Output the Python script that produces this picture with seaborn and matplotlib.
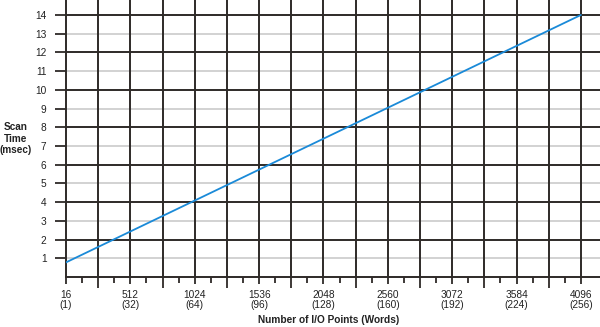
import matplotlib
matplotlib.use("Agg")
import matplotlib.pyplot as plt
import seaborn as sns
import pandas as pd

# Data (x in words from axis origin, y in msec)
io_words = [0, 256]
scan_ms = [0.78, 14.0]

# Tick labels
x_label_pos = [0, 32, 64, 96, 128, 160, 192, 224, 256]
x_label_text = ["16\n(1)", "512\n(32)", "1024\n(64)", "1536\n(96)", "2048\n(128)",
                "2560\n(160)", "3072\n(192)", "3584\n(224)", "4096\n(256)"]
x_grid_pos = [16, 48, 80, 112, 144, 176, 208, 240]
x_minor_pos = [8, 24, 40, 56, 72, 88, 104, 120, 136, 152, 168, 184, 200, 216, 232, 248]
y_ticks = list(range(1, 15))

sns.set_theme(style="white")
plt.rcParams["font.family"] = ["Liberation Sans", "DejaVu Sans"]

fig = plt.figure(figsize=(6.0, 3.27), dpi=100)
ax = fig.add_axes([66 / 600, 50 / 327, 1 - 66 / 600, 1 - 50 / 327])

dark = "#2e2a28"
light = "#d2d2d2"

# grid lines
for y in y_ticks:
    ax.axhline(y, color=dark if y % 2 == 0 else light, lw=1.4, zorder=1)
for x in x_label_pos[1:] + x_grid_pos:
    ax.axvline(x, color=dark, lw=1.4, zorder=1)

df = pd.DataFrame({"words": io_words, "ms": scan_ms})
sns.lineplot(data=df, x="words", y="ms", color="#1a8ad8", lw=1.3, ax=ax, zorder=3)

ax.set_xlim(0, 265.5)
ax.set_ylim(0, 14.8)

ax.set_xticks(x_label_pos)
ax.set_xticklabels(x_label_text, fontsize=7.3, color="#222222", linespacing=1.1)
ax.set_xticks(x_grid_pos + x_minor_pos, minor=True)
ax.tick_params(axis="x", which="major", direction="out", length=5, width=1.3,
               color=dark, pad=4, bottom=True)
ax.tick_params(axis="x", which="minor", direction="out", length=4, width=1.3,
               color=dark, bottom=True)
for t, pos in zip(ax.xaxis.get_minor_ticks(), x_grid_pos + x_minor_pos):
    if pos in x_grid_pos:
        t.tick1line.set_markersize(8)

ax.set_yticks(y_ticks)
ax.set_yticklabels([str(v) for v in y_ticks], fontsize=7.3, color="#222222")
ax.tick_params(axis="y", direction="out", length=8, width=1.3, color=dark, pad=6, left=True)

for s in ["top", "right"]:
    ax.spines[s].set_visible(False)
for s in ["left", "bottom"]:
    ax.spines[s].set_color(dark)
    ax.spines[s].set_linewidth(1.4)

ax.set_xlabel("")
ax.set_ylabel("")
fig.text(16 / 600, 1 - 138.5 / 327, "Scan\nTime\n(msec)", ha="center", va="center",
         fontsize=7.2, fontweight="bold", color="#222222", linespacing=1.2)
fig.text(329 / 600, 1 - 320 / 327, "Number of I/O Points (Words)", ha="center", va="center",
         fontsize=7.3, fontweight="bold", color="#222222")

fig.savefig("out.png", dpi=100)
